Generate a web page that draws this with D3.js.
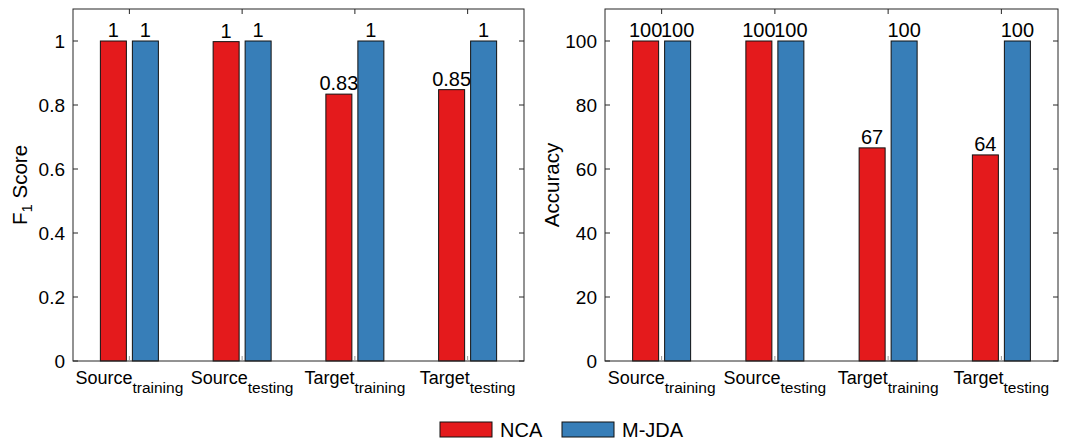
<!DOCTYPE html>
<html>
<head>
<meta charset="utf-8">
<script src="https://cdn.jsdelivr.net/npm/d3@7"></script>
<style>
  body { margin: 0; background: #fff; }
  svg { font-family: "Liberation Sans", Arial, Helvetica, sans-serif; }
</style>
</head>
<body>
<svg class="svg"></svg>
<script>
// data
const categories = ["Source", "Source", "Target", "Target"];
const subscripts = ["training", "testing", "training", "testing"];
const methods = ["NCA", "M-JDA"];
const colors = ["#e41a1c", "#377eb8"];

const f1NCA = [1, 0.998, 0.834, 0.848];
const f1MJDA = [1, 1, 1, 1];
const f1LabelsNCA = ["1", "1", "0.83", "0.85"];
const f1LabelsMJDA = ["1", "1", "1", "1"];
const f1Ticks = [0, 0.2, 0.4, 0.6, 0.8, 1];

const accNCA = [100, 100, 66.6, 64.4];
const accMJDA = [100, 100, 100, 100];
const accLabelsNCA = ["100", "100", "67", "64"];
const accLabelsMJDA = ["100", "100", "100", "100"];
const accTicks = [0, 20, 40, 60, 80, 100];

const width = 1066, height = 442;
const svg = d3.select(".svg").attr("width", width).attr("height", height);

const axisColor = "#262626";

function panel(opts) {
  const { left, right, top, bottom, ymax, ticks, tickFmt, series, labels, yLabel, yLabelX } = opts;

  const x = d3.scaleLinear().domain([0.5, 4.5]).range([left, right]);
  const y = d3.scaleLinear().domain([0, ymax]).range([bottom, top]);
  const g = svg.append("g");

  const offset = 16, barW = 26;

  // bars
  series.forEach((vals, s) => {
    g.selectAll(null)
      .data(vals)
      .join("rect")
      .attr("x", (d, i) => x(i + 1) + (s === 0 ? -offset : offset) - barW / 2)
      .attr("y", d => y(d))
      .attr("width", barW)
      .attr("height", d => y(0) - y(d))
      .attr("fill", colors[s])
      .attr("stroke", "#111")
      .attr("stroke-width", 1);

    g.selectAll(null)
      .data(vals)
      .join("text")
      .attr("x", (d, i) => x(i + 1) + (s === 0 ? -offset : offset))
      .attr("y", d => y(d) - 4)
      .attr("text-anchor", "middle")
      .attr("font-size", 20)
      .attr("fill", "#000")
      .text((d, i) => labels[s][i]);
  });

  // box
  g.append("rect")
    .attr("x", left).attr("y", top)
    .attr("width", right - left).attr("height", bottom - top)
    .attr("fill", "none").attr("stroke", axisColor).attr("stroke-width", 1);

  // y ticks, both sides, inward
  const tl = 5;
  g.selectAll(null).data(ticks).join("line")
    .attr("x1", left).attr("x2", left + tl)
    .attr("y1", d => y(d)).attr("y2", d => y(d))
    .attr("stroke", axisColor);
  g.selectAll(null).data(ticks).join("line")
    .attr("x1", right).attr("x2", right - tl)
    .attr("y1", d => y(d)).attr("y2", d => y(d))
    .attr("stroke", axisColor);
  g.selectAll(null).data(ticks).join("text")
    .attr("x", left - 8)
    .attr("y", d => y(d))
    .attr("dy", "0.35em")
    .attr("text-anchor", "end")
    .attr("font-size", 19)
    .text(tickFmt);

  // x ticks top and bottom
  const cats = d3.range(1, 5);
  g.selectAll(null).data(cats).join("line")
    .attr("x1", d => x(d)).attr("x2", d => x(d))
    .attr("y1", top).attr("y2", top + tl)
    .attr("stroke", axisColor);
  g.selectAll(null).data(cats).join("line")
    .attr("x1", d => x(d)).attr("x2", d => x(d))
    .attr("y1", bottom).attr("y2", bottom - tl)
    .attr("stroke", "#999");

  // category labels with subscripts
  const cl = g.selectAll(null).data(cats).join("text")
    .attr("x", d => x(d))
    .attr("y", bottom + 23)
    .attr("text-anchor", "middle")
    .attr("font-size", 18);
  cl.append("tspan").text(d => categories[d - 1]);
  cl.append("tspan").attr("font-size", 15.5).attr("dy", 9).text(d => subscripts[d - 1]);

  // y label
  const yl = g.append("text")
    .attr("transform", `translate(${yLabelX},${(top + bottom) / 2}) rotate(-90)`)
    .attr("text-anchor", "middle")
    .attr("font-size", 20.5);
  if (yLabel === "F1") {
    yl.append("tspan").text("F");
    yl.append("tspan").attr("font-size", 15).attr("dy", 5).text("1");
    yl.append("tspan").attr("dy", -5).text(" Score");
  } else {
    yl.text(yLabel);
  }
}

panel({
  left: 73, right: 524, top: 9, bottom: 361, ymax: 1.1,
  ticks: f1Ticks, tickFmt: d => d3.format("~g")(d),
  series: [f1NCA, f1MJDA], labels: [f1LabelsNCA, f1LabelsMJDA],
  yLabel: "F1", yLabelX: 27
});

panel({
  left: 605, right: 1058, top: 9, bottom: 361, ymax: 110,
  ticks: accTicks, tickFmt: d => d,
  series: [accNCA, accMJDA], labels: [accLabelsNCA, accLabelsMJDA],
  yLabel: "Accuracy", yLabelX: 559
});

// legend
const legendX = [440, 562];
const leg = svg.append("g").selectAll("g").data(methods).join("g")
  .attr("transform", (d, i) => `translate(${legendX[i]},422)`);
leg.append("rect")
  .attr("width", 52).attr("height", 15)
  .attr("fill", (d, i) => colors[i])
  .attr("stroke", "#111");
leg.append("text")
  .attr("x", 60).attr("y", 15)
  .attr("font-size", 20)
  .text(d => d);
</script>
</body>
</html>
